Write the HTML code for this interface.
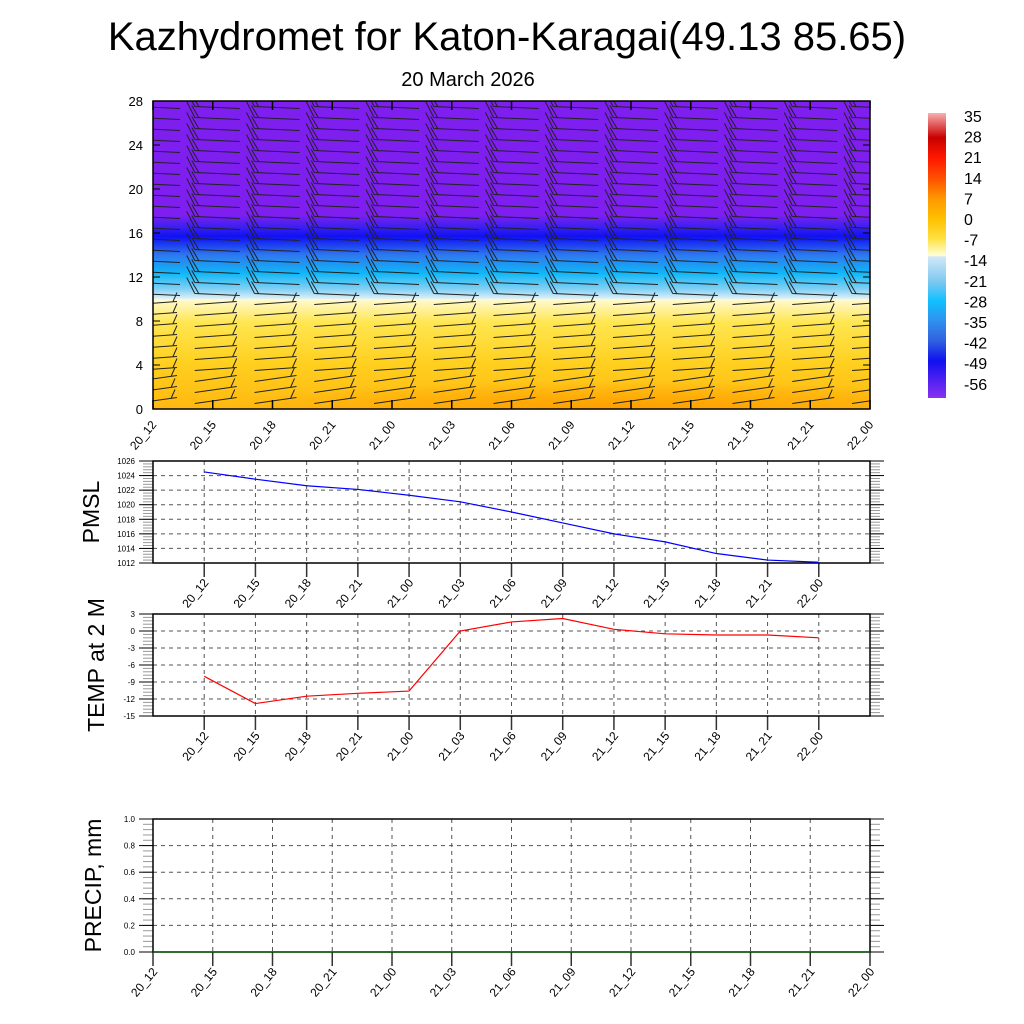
<!DOCTYPE html>
<html><head><meta charset="utf-8"><style>
html,body{margin:0;padding:0;background:#fff;}
svg{display:block;font-family:"Liberation Sans",sans-serif;}
</style></head><body>
<svg id="s" width="1024" height="1024" viewBox="0 0 1024 1024" xmlns="http://www.w3.org/2000/svg">
<defs>
<clipPath id="clipTop"><rect x="153" y="101" width="717" height="308"/></clipPath>
<linearGradient id="vg" x1="0" y1="0" x2="0" y2="1">
<stop offset="0" stop-color="#7e1ff0"/>
<stop offset="0.37" stop-color="#7e1ff0"/>
<stop offset="0.41" stop-color="#3a20f0"/>
<stop offset="0.44" stop-color="#1010f2"/>
<stop offset="0.50" stop-color="#2e78ee"/>
<stop offset="0.56" stop-color="#10b8f8"/>
<stop offset="0.61" stop-color="#80d0f4"/>
<stop offset="0.64" stop-color="#d8eef8"/>
<stop offset="0.645" stop-color="#fffad0"/>
<stop offset="0.72" stop-color="#ffe650"/>
<stop offset="0.85" stop-color="#ffd020"/>
<stop offset="1" stop-color="#ffb810"/>
</linearGradient>
<radialGradient id="og" cx="0.65" cy="1.0" r="0.55" gradientTransform="scale(1,0.45) translate(0,1.2)">
<stop offset="0" stop-color="#ffa000" stop-opacity="1"/>
<stop offset="1" stop-color="#ffa000" stop-opacity="0"/>
</radialGradient>
<linearGradient id="cb" x1="0" y1="0" x2="0" y2="1">
<stop offset="0" stop-color="#f8b0b0"/>
<stop offset="0.086" stop-color="#c80000"/>
<stop offset="0.158" stop-color="#ff1800"/>
<stop offset="0.23" stop-color="#ff5000"/>
<stop offset="0.30" stop-color="#ff9800"/>
<stop offset="0.37" stop-color="#ffc000"/>
<stop offset="0.44" stop-color="#ffe040"/>
<stop offset="0.50" stop-color="#ffffd8"/>
<stop offset="0.505" stop-color="#d0e8f8"/>
<stop offset="0.59" stop-color="#80c8f0"/>
<stop offset="0.66" stop-color="#10c0ff"/>
<stop offset="0.73" stop-color="#3090ee"/>
<stop offset="0.80" stop-color="#3060e0"/>
<stop offset="0.87" stop-color="#1010f0"/>
<stop offset="1" stop-color="#8a30f0"/>
</linearGradient>
</defs>
<text x="507" y="50" font-size="40" text-anchor="middle">Kazhydromet for Katon-Karagai(49.13 85.65)</text>
<text x="468" y="86" font-size="20" text-anchor="middle">20 March 2026</text>
<g id="top">
<rect x="153" y="101" width="717" height="308" fill="url(#vg)"/>
<rect x="153" y="300" width="717" height="109" fill="url(#og)"/>
<g id="barbs" stroke="#222" stroke-width="1" fill="none" clip-path="url(#clipTop)"></g>
<rect x="153" y="101" width="717" height="308" fill="none" stroke="#000" stroke-width="1.5"/>
<g id="topax"></g>
</g>
<g id="colorbar">
<rect x="928" y="113" width="18" height="285" fill="url(#cb)"/>
<g id="cblab" font-size="16"></g>
</g>
<g id="pmsl"></g>
<g id="temp"></g>
<g id="precip"></g>
</svg>
<script>
const times=["20_12","20_15","20_18","20_21","21_00","21_03","21_06","21_09","21_12","21_15","21_18","21_21","22_00"];
const pmslVals=[1024.5,1023.5,1022.6,1022.1,1021.3,1020.4,1019.0,1017.5,1016.0,1014.9,1013.3,1012.4,1012.1];
const tempVals=[-8.0,-12.8,-11.5,-11.0,-10.6,0.0,1.6,2.2,0.3,-0.5,-0.7,-0.7,-1.2];
const precipVals=[0,0,0,0,0,0,0,0,0,0,0,0,0];
const pmslTicks=[1012,1014,1016,1018,1020,1022,1024,1026];
const tempTicks=[-15,-12,-9,-6,-3,0,3];
const precipTicks=[0.0,0.2,0.4,0.6,0.8,1.0];
const heightTicks=[0,4,8,12,16,20,24,28];
const cbLabels=["35","28","21","14","7","0","-7","-14","-21","-28","-35","-42","-49","-56"];

const NS="http://www.w3.org/2000/svg";
function mk(tag,attrs,parent,text){const e=document.createElementNS(NS,tag);for(const k in attrs)e.setAttribute(k,attrs[k]);if(text!==undefined)e.textContent=text;parent.appendChild(e);return e;}

const topax=document.getElementById('topax');
const tx=i=>153+i*(717/12), ty=h=>409-h*(308/28);
heightTicks.forEach(h=>{
  const t=mk('text',{x:143,y:ty(h)+5,'font-size':13,'text-anchor':'end'},topax,String(h));
  
  
  mk('line',{x1:153,x2:160,y1:ty(h),y2:ty(h),stroke:'#000'},topax);
  mk('line',{x1:863,x2:870,y1:ty(h),y2:ty(h),stroke:'#000'},topax);
});
times.forEach((t,i)=>{
  const x=tx(i);
  mk('line',{x1:x,x2:x,y1:409,y2:400,stroke:'#000','stroke-width':1.5},topax);
  mk('line',{x1:x,x2:x,y1:101,y2:110,stroke:'#000','stroke-width':1.5},topax);
  const l=mk('text',{x:x+4,y:425,'font-size':12,'text-anchor':'end',transform:`rotate(-50 ${x+4} 425)`},topax,t);
  
  
});
const barbs=document.getElementById('barbs');
for(let i=0;i<13;i++){
  for(let h=0.5;h<28;h+=1){
    const x=tx(i)-18, y=ty(h);
    let d;
    if(h>10){d=`M${x} ${y} L${x+45} ${y+2} M${x} ${y} L${x-8} ${y-16} M${x+4} ${y} L${x-3} ${y-12}`;}
    else if(h>3){d=`M${x} ${y} L${x+42} ${y-3} M${x+38} ${y-3} L${x+42} ${y-12}`;}
    else {d=`M${x} ${y} L${x+42} ${y-6} M${x+36} ${y-5} L${x+40} ${y-14}`;}
    mk('path',{d:d},barbs);
  }
}
const cbl=document.getElementById('cblab');
cbLabels.forEach((s,i)=>{
  const t=mk('text',{x:964,y:122+i*20.6},cbl,s);
  
  
});

function panel(gid,top,bot,ymin,ymax,ticks,vals,color,title,titleY,labelFn,xmode){
  const g=document.getElementById(gid);
  const L=153,R=870;
  const sx = xmode==='full' ? (i=>L+i*(R-L)/12) : (i=>L+(i+1)*(R-L)/14);
  const sy=v=>bot-(v-ymin)/(ymax-ymin)*(bot-top);
  const step=(ticks[1]-ticks[0])/5;
  for(let v=ymin;v<=ymax+1e-9;v+=step){
    mk('line',{x1:L-10,x2:L,y1:sy(v),y2:sy(v),stroke:'#999'},g);
    mk('line',{x1:R,x2:R+10,y1:sy(v),y2:sy(v),stroke:'#999'},g);
  }
  ticks.forEach(v=>{
    const y=sy(v);
    if(v>ymin&&v<ymax) mk('line',{x1:L,x2:R,y1:y,y2:y,stroke:'#555','stroke-dasharray':'4,4'},g);
    mk('line',{x1:L-14,x2:L,y1:y,y2:y,stroke:'#000'},g);
    mk('line',{x1:R,x2:R+14,y1:y,y2:y,stroke:'#000'},g);
    const t=mk('text',{x:L-18,y:y+3,'font-size':8,'text-anchor':'end'},g,labelFn(v));
    
    
  });
  times.forEach((tm,i)=>{
    const x=sx(i);
    if(x>L+1&&x<R-1) mk('line',{x1:x,x2:x,y1:top,y2:bot,stroke:'#555','stroke-dasharray':'4,4'},g);
    mk('line',{x1:x,x2:x,y1:bot,y2:bot+14,stroke:'#333','stroke-width':1.5},g);
    const lx=x+5, ly=bot+20;
    const t=mk('text',{x:lx,y:ly,'font-size':12,'text-anchor':'end',transform:`rotate(-50 ${lx} ${ly})`},g,tm);
    
    
  });
  mk('rect',{x:L,y:top,width:R-L,height:bot-top,fill:'none',stroke:'#000','stroke-width':1.5},g);
  const pts=vals.map((v,i)=>`${sx(i)},${sy(v)}`).join(' ');
  const pl=mk('polyline',{points:pts,fill:'none',stroke:color,'stroke-width':1.2},g);
  
  
  const cy=(top+bot)/2;
  const tt=mk('text',{x:titleY,y:cy,'font-size':23,'text-anchor':'middle',transform:`rotate(-90 ${titleY} ${cy})`},g,title);
  
  
}
panel('pmsl',461,563,1012,1026,pmslTicks,pmslVals,'#0000ff','PMSL',99,v=>String(v),'inset');
panel('temp',614,716,-15,3,tempTicks,tempVals,'#ff0000','TEMP at 2 M',104,v=>String(v),'inset');
panel('precip',819,952,0,1,precipTicks,precipVals,'#006400','PRECIP, mm',101,v=>v.toFixed(1),'full');
</script>
</body></html>
